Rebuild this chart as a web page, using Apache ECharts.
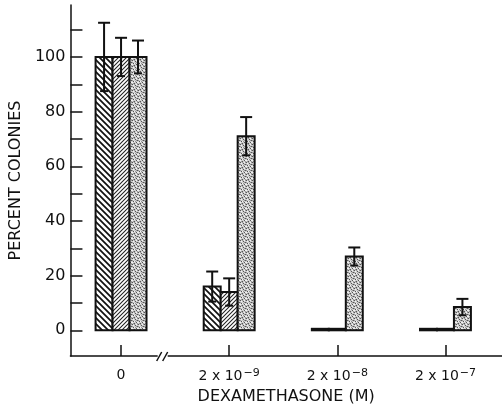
<!DOCTYPE html>
<html><head><meta charset="utf-8">
<script src="https://cdn.jsdelivr.net/npm/echarts@6/dist/echarts.min.js"></script>
<style>html,body{margin:0;padding:0;background:#fff}#c{width:502px;height:410px}</style>
</head><body><div id="c"></div>
<script>
// ---- data ----
const categories = ['0', '2x10^-9', '2x10^-8', '2x10^-7'];
const xLabelBase = ['0', '2 x 10', '2 x 10', '2 x 10'];
const xLabelExp = ['', '\u22129', '\u22128', '\u22127'];
const yTickValues = [0, 10, 20, 30, 40, 50, 60, 70, 80, 90, 100, 110];
const yLabelValues = [0, 20, 40, 60, 80, 100];

const seriesA = [100, 16, 0, 0];
const errA = [12.5, 5.5, 0, 0];
const seriesB = [100, 14, 0, 0];
const errB = [7, 5, 0, 0];
const seriesC = [100, 71, 27, 8.5];
const errC = [6, 7, 3.3, 3];

// ---- patterns ----
function hatch(size, dir, lw, col) {
  const c = document.createElement('canvas');
  c.width = size; c.height = size;
  const g = c.getContext('2d');
  g.fillStyle = '#fff'; g.fillRect(0, 0, size, size);
  g.strokeStyle = col; g.lineWidth = lw; g.beginPath();
  if (dir === '\\') {
    g.moveTo(-2, -2); g.lineTo(size + 2, size + 2);
    g.moveTo(size - 2, -2); g.lineTo(size + 2, 2);
    g.moveTo(-2, size - 2); g.lineTo(2, size + 2);
  } else {
    g.moveTo(-2, size + 2); g.lineTo(size + 2, -2);
    g.moveTo(-2, 2); g.lineTo(2, -2);
    g.moveTo(size - 2, size + 2); g.lineTo(size + 2, size - 2);
  }
  g.stroke();
  return { image: c, repeat: 'repeat' };
}
function stipple() {
  const c = document.createElement('canvas');
  c.width = 6; c.height = 6;
  const g = c.getContext('2d');
  g.fillStyle = '#cfcfcf'; g.fillRect(0, 0, 6, 6);
  g.fillStyle = '#555';
  [[0,0],[3,1],[1,3],[4,4],[2,5],[5,2]].forEach(d => g.fillRect(d[0], d[1], 1, 1));
  g.fillStyle = '#999';
  [[2,0],[5,0],[0,2],[4,2],[3,3],[1,5],[5,5]].forEach(d => g.fillRect(d[0], d[1], 1, 1));
  g.fillStyle = '#f2f2f2';
  [[1,1],[4,0],[2,3],[5,4],[0,4]].forEach(d => g.fillRect(d[0], d[1], 1, 1));
  return { image: c, repeat: 'repeat' };
}
const patA = hatch(6, '\\', 1.7, '#111');
const patB = hatch(4, '/', 1.05, '#222');
const patC = stipple();

function barSeries(name, vals, errs, k, pat) {
  return {
    type: 'custom', name: name, clip: false,
    data: vals.map((v, i) => [i, v, errs[i]]),
    renderItem: function (params, api) {
      const i = api.value(0), v = api.value(1), e = api.value(2);
      const unit = api.size([1, 0])[0];
      const bw = unit * 0.157;
      const base = api.coord([i, 0]);
      const top = api.coord([i, v]);
      const x0 = base[0] + (k - 1.5) * bw;
      let h = base[1] - top[1];
      let y = top[1];
      if (h < 2) { h = 1.5; y = base[1] - 1.5; }
      const children = [{
        type: 'rect', shape: { x: x0, y: y, width: bw, height: h },
        style: { fill: h < 2 ? '#111' : pat, stroke: '#111', lineWidth: 2 }
      }];
      if (e > 0) {
        const hi = api.coord([i, v + e])[1], lo = api.coord([i, v - e])[1];
        const cx = x0 + bw / 2;
        const ls = { stroke: '#111', lineWidth: 2 };
        children.push({ type: 'line', shape: { x1: cx, y1: hi, x2: cx, y2: lo }, style: ls });
        children.push({ type: 'line', shape: { x1: cx - 6, y1: hi, x2: cx + 6, y2: hi }, style: ls });
        children.push({ type: 'line', shape: { x1: cx - 4, y1: lo, x2: cx + 4, y2: lo }, style: ls });
      }
      return { type: 'group', children: children };
    }
  };
}

const breakSeries = {
  type: 'custom', clip: false, silent: true, z: 5,
  data: [[0.385]],
  renderItem: function (params, api) {
    const x = api.coord([api.value(0), 0])[0];
    const y = params.coordSys.y + params.coordSys.height;
    const ls = { stroke: '#111', lineWidth: 1.5 };
    return { type: 'group', children: [
      { type: 'rect', shape: { x: x - 5, y: y - 3, width: 10, height: 6 }, style: { fill: '#fff' } },
      { type: 'line', shape: { x1: x - 6, y1: y + 5, x2: x - 1, y2: y - 4 }, style: ls },
      { type: 'line', shape: { x1: x, y1: y + 5, x2: x + 5, y2: y - 4 }, style: ls }
    ]};
  }
};

const chart = echarts.init(document.getElementById('c'), null, { renderer: 'canvas' });
const txt = '#111';
chart.setOption({
  animation: false,
  backgroundColor: '#fff',
  grid: { left: 67, right: 0, top: 5, bottom: 51 },
  xAxis: {
    type: 'value', min: -0.468, max: 3.523,
    splitLine: { show: false },
    axisLine: { onZero: false, lineStyle: { color: txt, width: 1.5 } },
    axisTick: { show: true, inside: true, length: 11, customValues: [0, 1, 2, 3], lineStyle: { color: txt, width: 1.5 } },
    axisLabel: {
      customValues: [0, 1, 2, 3], margin: 12, color: txt, fontSize: 14, fontFamily: 'DejaVu Sans',
      formatter: function (val) {
        const i = Math.round(val);
        return xLabelExp[i] ? '{b|' + xLabelBase[i] + '}{s|' + xLabelExp[i] + '}' : '{b|' + xLabelBase[i] + '}';
      },
      rich: {
        b: { fontFamily: 'DejaVu Sans', fontSize: 14, color: txt },
        s: { fontFamily: 'DejaVu Sans', fontSize: 11, color: txt, padding: [0, 0, 5, 1] }
      }
    },
    name: 'DEXAMETHASONE (M)', nameLocation: 'middle', nameGap: 33,
    nameTextStyle: { fontFamily: 'DejaVu Sans', fontSize: 16, color: txt }
  },
  yAxis: {
    type: 'value', min: -9.4, max: 119,
    splitLine: { show: false },
    axisLine: { show: true, onZero: false, lineStyle: { color: txt, width: 1.5 } },
    axisTick: { show: true, inside: true, length: 12, customValues: yTickValues, lineStyle: { color: txt, width: 1.5 } },
    axisLabel: { customValues: yLabelValues, color: txt, fontFamily: 'DejaVu Sans', fontSize: 16, margin: 5 },
    name: 'PERCENT COLONIES', nameLocation: 'middle', nameGap: 44,
    nameTextStyle: { fontFamily: 'DejaVu Sans', fontSize: 16, color: txt }
  },
  series: [
    barSeries('A', seriesA, errA, 0, patA),
    barSeries('B', seriesB, errB, 1, patB),
    barSeries('C', seriesC, errC, 2, patC),
    breakSeries
  ]
});
</script></body></html>
